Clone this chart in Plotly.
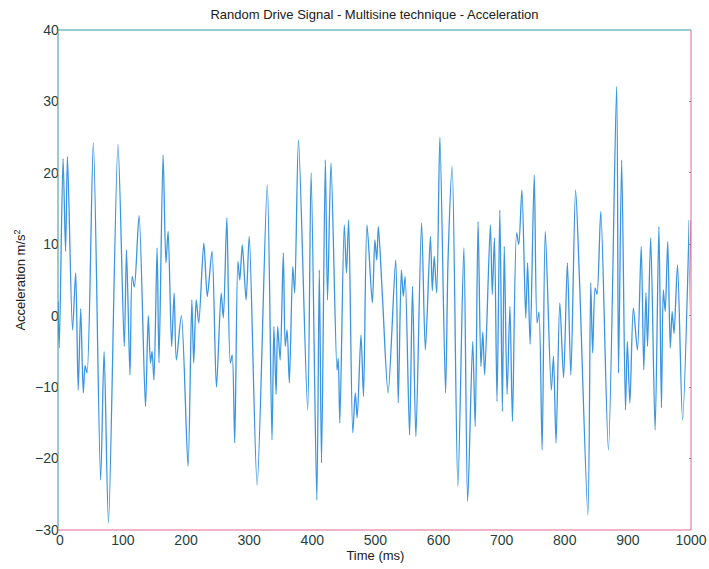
import plotly.graph_objects as go

# ---- data (time in ms, acceleration in m/s^2) ----
time_ms = [0, 2, 8, 12, 15, 23, 28, 32, 36, 40, 43, 46, 56, 67.5, 73, 80, 95, 105, 108.5, 114,
           117.5, 121, 128.5, 138.6, 143, 146.5, 149, 152, 157, 160, 166.5, 171, 174.5, 180, 184,
           187.5, 195.5, 206, 212, 215, 219, 223, 231, 236.5, 244, 251, 258.5, 262, 267.5, 273,
           276, 280, 285, 288, 292, 298, 303, 315.5, 331.5, 339, 342, 345.5, 348, 352, 357, 360,
           363, 366.5, 372, 375, 381, 395.5, 401, 410, 414, 417.5, 423.5, 427, 432.5, 442, 444,
           446.5, 453.5, 457, 460.5, 467, 471, 474, 480, 484, 489.5, 498, 502, 505, 507.5, 514,
           523, 535, 539, 544, 547, 550, 557, 561.6, 567, 576, 582, 590, 593, 596, 600, 605, 614,
           618, 624.5, 633.5, 643, 649, 657, 661, 665.5, 670, 673, 676, 685, 688, 691.5, 695.5,
           700, 704, 707, 711.5, 716, 720, 726.6, 730, 735, 741, 744, 748, 754.5, 759, 762, 767,
           772, 781.5, 785, 789, 795, 801, 807, 812.5, 820, 826, 839.5, 844, 847, 851, 854, 860,
           872, 885, 888, 893, 899, 902, 906, 911.5, 918, 924, 928, 931.5, 934, 939, 946, 952,
           956, 959, 962, 966, 970, 973, 976, 981.5, 989.5, 1000]
accel = [2, -4.5, 22, 9, 22.3, -2, 6, -10.4, 1, -10.8, -7, -8, 24.2, -23, -5, -29, 24, -4.3, 9.2, -8.3,
         5.5, 4, 14, -12.7, 0, -6.6, -5, -9, 9.5, -6.6, 22.5, 7.4, 11.8, -4.3, 3.2,
         -6.2, 0, -21.1, 2.2, -6.6, 2.2, -1, 10.2, 2.7, 9, -10, 3.2, -0.3, 13.7, -6.6,
         -5.5, -17.8, 7.6, 5, 9.9, 2.2, 11.1, -23.7, 18.3, -17.4, -1.5, -11, -1.5, -6.2, 8.8, -4.3,
         -2, -9.4, 6.9, 3.2, 24.6, -13.2, 20, -25.8, 6.4, -20.6, 21.8, 2.2, 21.4, -7.6, -6,
         -15, 12.7, 6, 13.4, -16.4, -10.8, -14.3, -2.7, -11.3, 12.7, 1.8, 10.6, 7.8, 12.5, 2.7,
         -10.8, 7.8, -12.2, 6.4, 2.7, 5.5, -16.7, 4.1, -16.9, 13, -4.8, 11.1, 3.5, 8.3, 3.2, 25, -10.8,
         8, 20.9, -23.9, 9.5, -26, -3.6, -15.5, 13.2, -7.1, -2.3, -8.3, 12.7, 3, 10.9, -12,
         14.8, -13.4, 9.7, -11, 1.3, -14.8, 11.6, 10, 17.6, -0.3, 7.4, -4, 19.7, -1, 0.5, -18.8,
         11.8, -10.4, -5.7, -17.8, 1.8, -8.7, 7.4, -8.3, 17.6, 5.5, -27.9, 4.6, -5.2, 3.9, 3, 14.6,
         -18.8, 32.1, -8, 21.8, -13.2, -3.6, -12.2, 1.1, -4.8, 9.7, -7.6, 3.2, -4.3, 10.9, -16, 12.5,
         -12.9, 3.6, 0.6, 10.4, -4.5, 0.6, -2.5, 7.1, -14.6, 13.4]

x_ticks = [0, 100, 200, 300, 400, 500, 600, 700, 800, 900, 1000]
y_ticks = [-30, -20, -10, 0, 10, 20, 30, 40]

TEAL = "#2f9a9a"
PINK = "#e06a8c"
LABEL = "#1f3f3f"
FONT = "Liberation Sans, Arial, sans-serif"

W, H = 709, 569
ML, MR, MT, MB = 58, 18, 30, 39
plot_w = W - ML - MR
shift = 1.8 / plot_w  # colour-fringe offset of the magenta ghost line

fig = go.Figure()
# magenta ghost (colour fringe) on the main axis, nudged right by its domain
fig.add_trace(go.Scatter(x=time_ms, y=accel, mode="lines", xaxis="x", yaxis="y",
                         line=dict(color="rgba(235,105,155,0.9)", width=1.3, shape="spline", smoothing=0.8),
                         hoverinfo="skip", showlegend=False))
# main blue signal on a twin axis drawn on top
fig.add_trace(go.Scatter(x=time_ms, y=accel, mode="lines", xaxis="x2", yaxis="y",
                         line=dict(color="#3a96df", width=1.3, shape="spline", smoothing=0.8),
                         showlegend=False))

axis_common = dict(showgrid=False, zeroline=False, showline=False, automargin=False,
                   ticks="inside", ticklen=5, tickcolor=TEAL, tickwidth=1,
                   tickfont=dict(family=FONT, size=14, color=LABEL))

fig.update_layout(
    width=W, height=H,
    margin=dict(l=ML, r=MR, t=MT, b=MB),
    paper_bgcolor="white", plot_bgcolor="white",
    font=dict(family=FONT, size=13, color="#202020"),
    title=dict(text="Random Drive Signal - Multisine technique - Acceleration",
               x=(ML + plot_w / 2) / W, xanchor="center", y=1 - 14 / H, yanchor="middle",
               font=dict(family=FONT, size=13, color="#202020")),
    xaxis=dict(range=[0, 1000], tickvals=x_ticks, domain=[shift, 1], mirror="ticks",
               title=dict(text="Time (ms)", standoff=1, font=dict(family=FONT, size=13, color="#202020")),
               **axis_common),
    xaxis2=dict(range=[0, 1000], domain=[0, 1 - shift], anchor="y", visible=False),
    yaxis=dict(range=[-30, 40], tickvals=y_ticks, mirror="ticks",
               title=dict(text="Acceleration m/s<sup>2</sup>", standoff=6,
                          font=dict(family=FONT, size=13, color="#202020")),
               **axis_common),
    shapes=[
        dict(type="line", xref="paper", yref="paper", x0=0, x1=0, y0=0, y1=1, line=dict(color=TEAL, width=1)),
        dict(type="line", xref="paper", yref="paper", x0=0, x1=1, y0=1, y1=1, line=dict(color=TEAL, width=1)),
        dict(type="line", xref="paper", yref="paper", x0=1, x1=1, y0=0, y1=1, line=dict(color=PINK, width=1)),
        dict(type="line", xref="paper", yref="paper", x0=0, x1=1, y0=0, y1=0, line=dict(color=PINK, width=1)),
    ],
)

fig.write_html("out.html")
